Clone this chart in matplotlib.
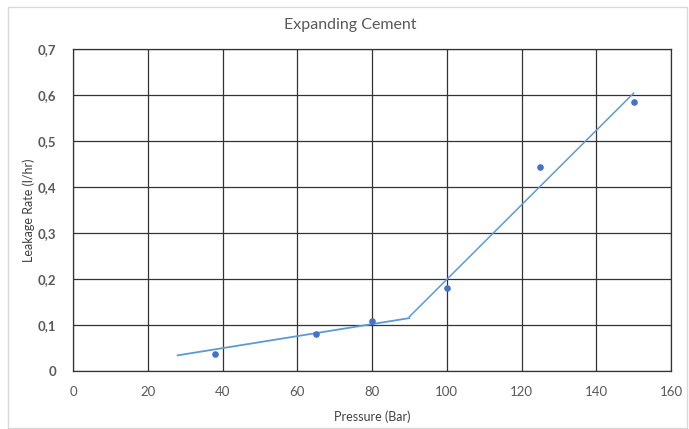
import numpy as np
import matplotlib.pyplot as plt
from matplotlib.patches import Rectangle
from matplotlib.ticker import FuncFormatter, MultipleLocator

plt.rcParams['font.family'] = ['Lato', 'DejaVu Sans']

# measured leakage rates
pressure = [38, 65, 80, 100, 125, 150]
leakage = [0.037, 0.080, 0.109, 0.180, 0.443, 0.585]

# two-stage trend lines
trend_low_x = [28, 90]
trend_low_y = [0.034, 0.115]
trend_high_x = [90, 150]
trend_high_y = [0.118, 0.604]

x_ticks = [0, 20, 40, 60, 80, 100, 120, 140, 160]
y_ticks = [0, 0.1, 0.2, 0.3, 0.4, 0.5, 0.6, 0.7]

fig = plt.figure(figsize=(6.89, 4.29), dpi=100)
ax = fig.add_axes([73 / 689, 58 / 429, 598 / 689, 322 / 429])

# outer chart frame
fig.patches.append(Rectangle((8 / 689, 1 / 429), 679 / 689, 421 / 429,
                             transform=fig.transFigure, fill=False,
                             edgecolor='#d9d9d9', linewidth=1.0))

ax.plot(trend_low_x, trend_low_y, color='#5b9bd5', linewidth=1.3, zorder=3)
ax.plot(trend_high_x, trend_high_y, color='#5b9bd5', linewidth=1.1, zorder=3)
ax.scatter(pressure, leakage, s=14, color='#4472c4', zorder=4)

ax.set_xlim(0, 160)
ax.set_ylim(0, 0.7)
ax.set_xticks(x_ticks)
ax.set_yticks(y_ticks)
ax.yaxis.set_major_formatter(FuncFormatter(
    lambda v, p: '0' if v == 0 else f'{v:.1f}'.replace('.', ',')))

ax.grid(True, color='#333333', linewidth=0.9)
ax.set_axisbelow(True)
for s in ax.spines.values():
    s.set_color('#333333')
    s.set_linewidth(0.9)

ax.tick_params(length=0, colors='#595959', labelsize=9.5)
ax.tick_params(axis='x', pad=11)
ax.tick_params(axis='y', pad=12)
for lbl in ax.get_yticklabels():
    lbl.set_fontweight('bold')

ax.set_xlabel('Pressure (Bar)', fontsize=9, color='#404040', labelpad=9)
ax.set_ylabel('Leakage Rate (l/hr)', fontsize=9, color='#404040', labelpad=2)
fig.text(350 / 689, 1 - 25 / 429, 'Expanding Cement', ha='center', va='center',
         fontsize=11.5, color='#595959')

fig.savefig('out.png', dpi=100)
